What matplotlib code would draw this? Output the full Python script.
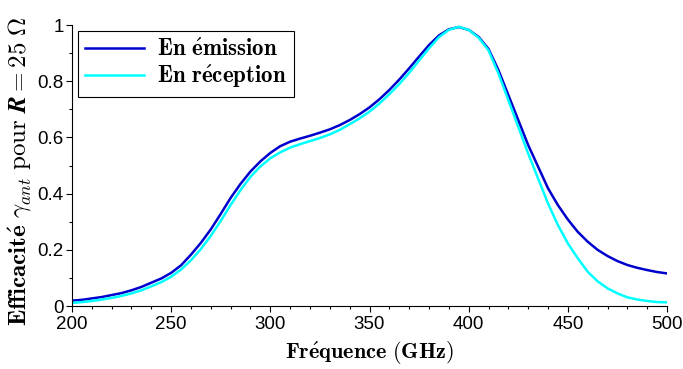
import matplotlib
matplotlib.use("Agg")
import matplotlib.pyplot as plt
from matplotlib.ticker import MultipleLocator

plt.rcParams['mathtext.fontset'] = 'cm'
plt.rcParams['font.family'] = ['Liberation Sans', 'DejaVu Sans']

freq = [200, 205, 210, 215, 220, 225, 230, 235, 240, 245, 250, 255, 260, 265,
        270, 275, 280, 285, 290, 295, 300, 305, 310, 315, 320, 325, 330, 335,
        340, 345, 350, 355, 360, 365, 370, 375, 380, 385, 390, 395, 400, 405,
        410, 415, 420, 425, 430, 435, 440, 445, 450, 455, 460, 465, 470, 475,
        480, 485, 490, 495, 500]
emission = [0.019, 0.022, 0.027, 0.032, 0.039, 0.046, 0.056, 0.068, 0.083, 0.098,
            0.118, 0.145, 0.183, 0.225, 0.273, 0.328, 0.385, 0.435, 0.479, 0.515,
            0.545, 0.569, 0.585, 0.596, 0.606, 0.617, 0.629, 0.644, 0.662, 0.683,
            0.707, 0.736, 0.769, 0.806, 0.846, 0.888, 0.929, 0.963, 0.985, 0.993,
            0.983, 0.958, 0.915, 0.84, 0.751, 0.662, 0.573, 0.496, 0.419, 0.359,
            0.308, 0.264, 0.229, 0.200, 0.178, 0.160, 0.146, 0.136, 0.128, 0.121,
            0.116]
reception = [0.011, 0.014, 0.018, 0.023, 0.029, 0.036, 0.045, 0.056, 0.070, 0.085,
             0.104, 0.130, 0.163, 0.203, 0.250, 0.303, 0.360, 0.413, 0.460, 0.497,
             0.526, 0.547, 0.564, 0.576, 0.587, 0.598, 0.611, 0.627, 0.647, 0.668,
             0.692, 0.721, 0.754, 0.790, 0.830, 0.874, 0.917, 0.957, 0.983, 0.994,
             0.983, 0.955, 0.910, 0.828, 0.733, 0.638, 0.543, 0.454, 0.365, 0.288,
             0.223, 0.170, 0.122, 0.088, 0.063, 0.045, 0.031, 0.023, 0.018, 0.014,
             0.013]

fig = plt.figure(figsize=(6.83, 3.69), dpi=100)
ax = fig.add_axes([0.1054, 0.1707, 0.8712, 0.7613])

ax.plot(freq, emission, color='#0000CD', lw=1.8, label=r'$\mathbf{En\ \acute{e}mission}$')
ax.plot(freq, reception, color='#00FFFF', lw=1.8, label=r'$\mathbf{En\ r\acute{e}ception}$')

ax.set_xlim(200, 500)
ax.set_ylim(0, 1)
ax.xaxis.set_major_locator(MultipleLocator(50))
ax.xaxis.set_minor_locator(MultipleLocator(10))
ax.yaxis.set_minor_locator(MultipleLocator(0.1))
ax.set_yticks([0, 0.2, 0.4, 0.6, 0.8, 1.0])
ax.set_yticklabels(['0', '0.2', '0.4', '0.6', '0.8', '1'])

for s in ['top', 'right']:
    ax.spines[s].set_visible(False)
ax.tick_params(which='major', length=4, width=0.8, labelsize=13.5, direction='out', pad=2)
ax.tick_params(axis='x', which='major', pad=3)
ax.tick_params(which='minor', length=2, width=0.8, direction='out')

ax.set_xlabel(r'$\mathbf{Fr\acute{e}quence\ (GHz)}$', fontsize=16, labelpad=5)
ax.set_ylabel(r'$\mathbf{Efficacit\acute{e}}\ \gamma_{ant}\ \mathrm{pour}\ \boldsymbol{R}\mathbf{=25}\ \boldsymbol{\Omega}$',
              fontsize=18)
ax.yaxis.set_label_coords(-0.064, 0.479)

leg = ax.legend(loc='upper left', bbox_to_anchor=(0.01, 0.98), fontsize=16.5,
                frameon=True, fancybox=False, edgecolor='black', framealpha=1,
                handlelength=2.6, borderpad=0.3, labelspacing=0.1,
                handletextpad=0.55, borderaxespad=0)
leg.get_frame().set_linewidth(0.8)

fig.savefig('out.png', dpi=100)
